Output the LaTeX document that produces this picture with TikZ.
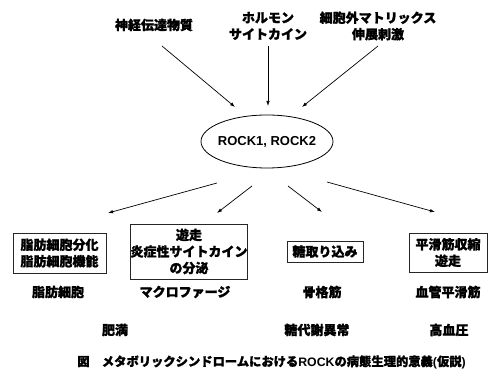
\documentclass[tikz,border=0pt]{standalone}
\usepackage{fontspec}
\setmainfont{Liberation Sans}
\newfontfamily\jp{Noto Sans CJK JP}[BoldFeatures={FakeBold=1.2}]
\usetikzlibrary{arrows.meta}
\tikzset{
  lbl/.style={font=\jp\bfseries\fontsize{13}{16.5}\selectfont, align=center, inner sep=0pt},
  bx/.style={draw=black!85, line width=0.8pt, font=\jp\bfseries\fontsize{13}{16.5}\selectfont, align=center, inner sep=0pt},
  arr/.style={line width=0.7pt, -{Latex[length=5pt,width=3.5pt]}}
}
\begin{document}
\begin{tikzpicture}[x=1pt,y=-1pt]
\useasboundingbox (0,0) rectangle (488,371);
% top labels
\node[lbl] (nt) at (154,25) {神経伝達物質};
\node[lbl] (hm) at (268,26) {ホルモン\\サイトカイン};
\node[lbl] (ecm) at (378,26) {細胞外マトリックス\\伸展刺激};
% ellipse
\draw[line width=0.8pt] (267,141.5) ellipse [x radius=66, y radius=26.5];
\node[font=\bfseries\fontsize{13}{15}\selectfont, inner sep=0pt] (rock) at (267,142) {ROCK1, ROCK2};
% top arrow ends
\coordinate (t1s) at (162,46); \coordinate (t1e) at (235,107);
\coordinate (t2s) at (268,46); \coordinate (t2e) at (268,106);
\coordinate (t3s) at (378,46); \coordinate (t3e) at (302,107);
\draw[arr] (t1s) -- (t1e);
\draw[arr] (t2s) -- (t2e);
\draw[arr] (t3s) -- (t3e);
% bottom arrows
\coordinate (b1s) at (217,183); \coordinate (b1e) at (108,213);
\coordinate (b2s) at (252,186); \coordinate (b2e) at (217,213);
\coordinate (b3s) at (288,186); \coordinate (b3e) at (322,212);
\coordinate (b4s) at (327,182); \coordinate (b4e) at (435,212);
\draw[arr] (b1s) -- (b1e);
\draw[arr] (b2s) -- (b2e);
\draw[arr] (b3s) -- (b3e);
\draw[arr] (b4s) -- (b4e);
% boxes
\node[bx, minimum width=93pt, minimum height=40pt] (box1) at (59.5,253) {脂肪細胞分化\\脂肪細胞機能};
\node[bx, minimum width=114pt, minimum height=55pt] (box2) at (189,251.5) {遊走\\炎症性サイトカイン\\の分泌};
\node[bx, minimum width=76pt, minimum height=21pt] (box3) at (325,251.5) {糖取り込み};
\node[bx, minimum width=78pt, minimum height=39pt] (box4) at (448,252.5) {平滑筋収縮\\遊走};
% cell labels
\node[lbl] (c1) at (58,292) {脂肪細胞};
\node[lbl] (c2) at (185,292) {マクロファージ};
\node[lbl] (c3) at (322,292) {骨格筋};
\node[lbl] (c4) at (448,292) {血管平滑筋};
% disease labels
\node[lbl] (d1) at (115,330) {肥満};
\node[lbl] (d2) at (317,330) {糖代謝異常};
\node[lbl] (d3) at (449,330) {高血圧};
% caption
\node[font=\bfseries\fontsize{12.3}{14}\selectfont, inner sep=0pt] (cap) at (271.5,362) {{\jp 図　メタボリックシンドロームにおける}ROCK{\jp の病態生理的意義}(\jp 仮説\rmfamily)};
\end{tikzpicture}
\end{document}
